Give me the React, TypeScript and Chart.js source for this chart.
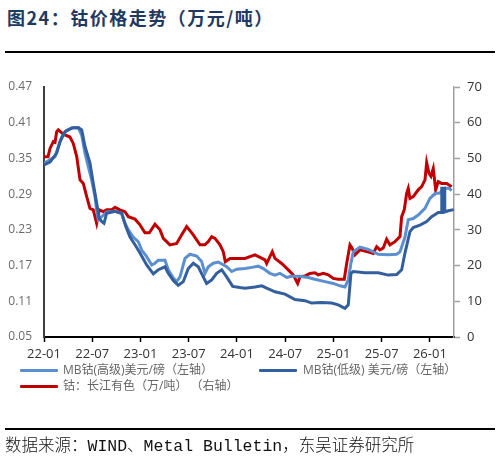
import React, { useEffect, useRef } from "react";
import { Chart, registerables } from "chart.js";

Chart.register(...registerables);

// month offsets from 2022-01 and values
const highMonths = [0,0.53,1.37,1.78,2.2,2.82,3.64,4.27,4.69,5.1,5.51,5.93,6.34,6.55,6.75,7.17,7.8,8.83,9.66,10.07,10.49,11.1,11.73,12.15,12.77,13.4,13.8,14.22,15.05,15.46,16.08,16.5,16.92,17.54,18.16,18.99,19.61,20.02,20.44,21.06,21.68,22.72,23.35,23.97,25.0,25.87,26.65,27.28,28.1,28.73,29.35,30.19,30.81,31.84,32.87,33.7,34.95,35.98,36.82,37.44,37.85,38.18,38.47,39.3,40.34,41.58,42.82,43.87,44.28,44.9,45.31,45.93,46.55,47.39,48.01,48.63,49.25,49.88,50.37,50.71];
const highValues = [0.342,0.346,0.353,0.370,0.386,0.397,0.402,0.401,0.389,0.359,0.336,0.314,0.286,0.263,0.247,0.252,0.260,0.261,0.258,0.241,0.230,0.218,0.210,0.196,0.185,0.171,0.174,0.179,0.179,0.163,0.149,0.143,0.151,0.182,0.189,0.186,0.177,0.157,0.168,0.174,0.176,0.168,0.160,0.164,0.165,0.167,0.169,0.165,0.157,0.154,0.157,0.150,0.152,0.152,0.150,0.147,0.143,0.140,0.136,0.134,0.146,0.174,0.193,0.201,0.197,0.189,0.188,0.189,0.193,0.218,0.247,0.249,0.255,0.266,0.283,0.291,0.292,0.300,0.300,0.296];

const lowMonths = [0,0.75,1.58,1.99,2.61,3.44,4.27,4.69,5.1,5.72,6.13,6.55,6.88,7.17,7.46,7.8,8.83,9.66,10.2,10.7,11.32,11.94,12.77,13.6,14.22,15.05,15.46,16.08,16.7,17.33,17.95,18.57,19.19,19.81,20.23,20.86,21.48,22.1,22.72,23.47,24.38,25.0,26.24,27.08,27.7,28.73,29.98,31.22,32.46,33.3,34.54,35.78,36.6,37.44,37.85,38.18,38.47,39.93,41.58,42.82,43.87,44.49,44.9,45.52,45.93,46.77,47.6,48.22,49.04,49.44,49.48,49.81,49.85,50.29,50.97];
const lowValues = [0.339,0.344,0.359,0.378,0.395,0.401,0.402,0.398,0.370,0.342,0.308,0.275,0.249,0.244,0.241,0.258,0.261,0.258,0.235,0.218,0.205,0.191,0.171,0.156,0.163,0.168,0.157,0.145,0.137,0.143,0.165,0.174,0.168,0.151,0.140,0.146,0.157,0.163,0.151,0.135,0.133,0.132,0.134,0.136,0.132,0.126,0.122,0.113,0.111,0.107,0.108,0.107,0.104,0.098,0.104,0.157,0.160,0.158,0.158,0.154,0.155,0.163,0.191,0.227,0.234,0.238,0.244,0.252,0.259,0.259,0.300,0.300,0.260,0.262,0.264];

const cnMonths = [0,0.5,0.75,1.16,1.37,1.58,1.78,2.4,3.23,3.64,4.07,4.48,4.89,5.31,5.72,6.13,6.55,6.88,7.38,7.8,8.42,8.83,9.45,10.07,10.49,11.32,11.94,12.56,13.1,13.8,14.43,14.84,15.67,16.5,17.13,17.75,18.57,19.4,20.02,20.44,20.86,21.27,21.89,22.3,22.55,23.13,24.38,25.0,26.24,26.87,27.49,27.7,28.1,28.4,28.73,29.56,30.39,31.0,31.55,31.84,32.46,33.08,33.7,34.1,34.74,35.36,35.98,36.6,37.35,37.65,38.06,38.3,38.68,39.3,40.14,40.96,41.38,41.79,42.2,42.62,43.03,43.66,44.28,44.49,44.81,45.11,45.31,45.52,45.93,46.55,46.98,47.39,47.6,47.89,48.13,48.42,48.72,49.04,49.46,50.09,50.71];
const cnValues = [50.5,50.5,52.8,54.7,54.5,57.5,58.0,56.8,56.0,54.2,50.5,44.0,43.0,39.3,36.0,35.6,31.8,35.6,35.1,35.6,35.6,36.3,35.6,35.1,33.7,33.0,31.4,29.2,29.2,31.6,30.0,27.6,25.8,26.2,28.6,30.9,28.6,25.8,25.8,26.7,28.1,27.6,25.8,23.9,21.1,22.0,22.0,22.0,23.0,22.3,21.6,20.6,22.5,23.9,22.0,20.6,18.8,17.4,15.0,16.9,17.1,17.8,18.0,17.4,17.8,17.4,16.4,16.2,16.2,20.6,25.8,25.0,23.0,24.4,23.9,23.4,25.3,24.4,24.9,27.4,25.8,26.7,28.1,33.7,35.6,40.2,41.6,38.8,39.3,41.2,42.1,44.0,48.8,45.8,45.0,47.2,41.2,43.5,43.0,43.0,42.1];

const xTickMonths = [0, 6, 12, 18, 24, 30, 36, 42, 48];
const leftTicks = [0.05, 0.11, 0.17, 0.23, 0.29, 0.35, 0.41, 0.47];

const seriesNames = [
  "MB钴(高级)美元/磅（左轴）",
  "MB钴(低级) 美元/磅（左轴）",
  "钴：长江有色（万/吨） （右轴）",
];
const colors = ["#5b8fd0", "#335f9e", "#c00000"];

const zip = (xs: number[], ys: number[]) =>
  xs.slice(0, Math.min(xs.length, ys.length)).map((x, i) => ({ x, y: ys[i] }));

const monthLabel = (v: number) => {
  const y = 22 + Math.floor(v / 12);
  const m = (v % 12) + 1;
  return `${y}-${m < 10 ? "0" + m : m}`;
};

export default function App() {
  const ref = useRef<HTMLCanvasElement | null>(null);

  useEffect(() => {
    if (!ref.current) return;
    const font = "'Open Sans', 'Noto Sans CJK SC', sans-serif";
    const chart = new Chart(ref.current, {
      type: "line",
      data: {
        datasets: [
          {
            label: seriesNames[1],
            data: zip(lowMonths, lowValues),
            yAxisID: "yL",
            borderColor: colors[1],
            borderWidth: 3,
            pointRadius: 0,
            tension: 0,
          },
          {
            label: seriesNames[0],
            data: zip(highMonths, highValues),
            yAxisID: "yL",
            borderColor: colors[0],
            borderWidth: 3,
            pointRadius: 0,
            tension: 0,
          },
          {
            label: seriesNames[2],
            data: zip(cnMonths, cnValues),
            yAxisID: "yR",
            borderColor: colors[2],
            borderWidth: 3,
            pointRadius: 0,
            tension: 0,
          },
        ],
      },
      options: {
        animation: false,
        responsive: false,
        maintainAspectRatio: false,
        layout: { padding: { left: 0, right: 0, top: 87, bottom: 102 } },
        plugins: { legend: { display: false }, tooltip: { enabled: false } },
        scales: {
          x: {
            type: "linear",
            min: 0,
            max: 51,
            afterBuildTicks: (s: any) => {
              s.ticks = xTickMonths.map((v) => ({ value: v }));
            },
            afterFit: (s: any) => {
              s.height = 30;
            },
            grid: {
              drawOnChartArea: false,
              drawTicks: true,
              tickLength: 5,
              tickWidth: 1.5,
              tickColor: "#000",
            },
            border: { display: true, color: "#000", width: 2 },
            ticks: {
              autoSkip: false,
              maxRotation: 0,
              padding: 4,
              color: "#333",
              font: { family: font, size: 13 },
              callback: (v: any) => monthLabel(Number(v)),
            },
          },
          yL: {
            type: "linear",
            position: "left",
            min: 0.05,
            max: 0.47,
            afterBuildTicks: (s: any) => {
              s.ticks = leftTicks.map((v) => ({ value: v }));
            },
            afterFit: (s: any) => {
              s.width = 44;
            },
            grid: { drawOnChartArea: false, drawTicks: false },
            border: { display: true, color: "#404040", width: 2 },
            ticks: {
              padding: 12,
              color: "#6b6b6b",
              font: { family: font, size: 12 },
              callback: (v: any) => Number(v).toFixed(2),
            },
          },
          yR: {
            type: "linear",
            position: "right",
            min: 0,
            max: 70,
            ticks: {
              stepSize: 10,
              padding: 7,
              color: "#333",
              font: { family: font, size: 13 },
            },
            afterFit: (s: any) => {
              s.width = 46;
            },
            grid: {
              drawOnChartArea: false,
              drawTicks: true,
              tickLength: 6,
              tickColor: "#a0a0a0",
              tickWidth: 1.5,
            },
            border: { display: true, color: "#a0a0a0", width: 1.5 },
          },
        },
      },
    });
    return () => chart.destroy();
  }, []);

  const legendText: React.CSSProperties = {
    position: "absolute",
    fontFamily: "'Open Sans', 'Noto Sans CJK SC', sans-serif",
    fontSize: 12,
    color: "#666",
    lineHeight: "16px",
    whiteSpace: "nowrap",
  };
  const legendLine = (left: number, top: number, color: string): React.CSSProperties => ({
    position: "absolute",
    left,
    top,
    width: 38,
    height: 3,
    background: color,
    borderRadius: 1,
  });

  return (
    <div style={{ position: "fixed", left: 0, top: 0, width: 500, height: 469, background: "#fff", overflow: "hidden" }}>
      <div
        style={{
          position: "absolute",
          left: 7,
          top: 5,
          fontFamily: "'Noto Sans CJK SC', sans-serif",
          fontWeight: 700,
          fontSize: 18,
          letterSpacing: 1.5,
          color: "#1f3a60",
          lineHeight: "24px",
          whiteSpace: "nowrap",
        }}
      >
        图24：钴价格走势（万元/吨）
      </div>
      <div style={{ position: "absolute", left: 5, top: 51, width: 490, height: 2, background: "#000" }} />
      <canvas ref={ref} width={500} height={469} style={{ position: "absolute", left: 0, top: 0, width: 500, height: 469 }} />
      <div style={legendLine(20, 369, colors[0])} />
      <div style={{ ...legendText, left: 63, top: 362 }}>{seriesNames[0]}</div>
      <div style={legendLine(259, 369, colors[1])} />
      <div style={{ ...legendText, left: 303, top: 362 }}>{seriesNames[1]}</div>
      <div style={legendLine(20, 385, colors[2])} />
      <div style={{ ...legendText, left: 63, top: 378 }}>{seriesNames[2]}</div>
      <div style={{ position: "absolute", left: 5, top: 428, width: 490, height: 2, background: "#000" }} />
      <div
        style={{
          position: "absolute",
          left: 5,
          top: 436,
          fontFamily: "'Liberation Mono', 'Noto Sans CJK SC', monospace",
          fontSize: 16.5,
          fontWeight: 300,
          color: "#111",
          lineHeight: "22px",
          whiteSpace: "nowrap",
        }}
      >
        数据来源：WIND、Metal Bulletin，东吴证券研究所
      </div>
    </div>
  );
}
